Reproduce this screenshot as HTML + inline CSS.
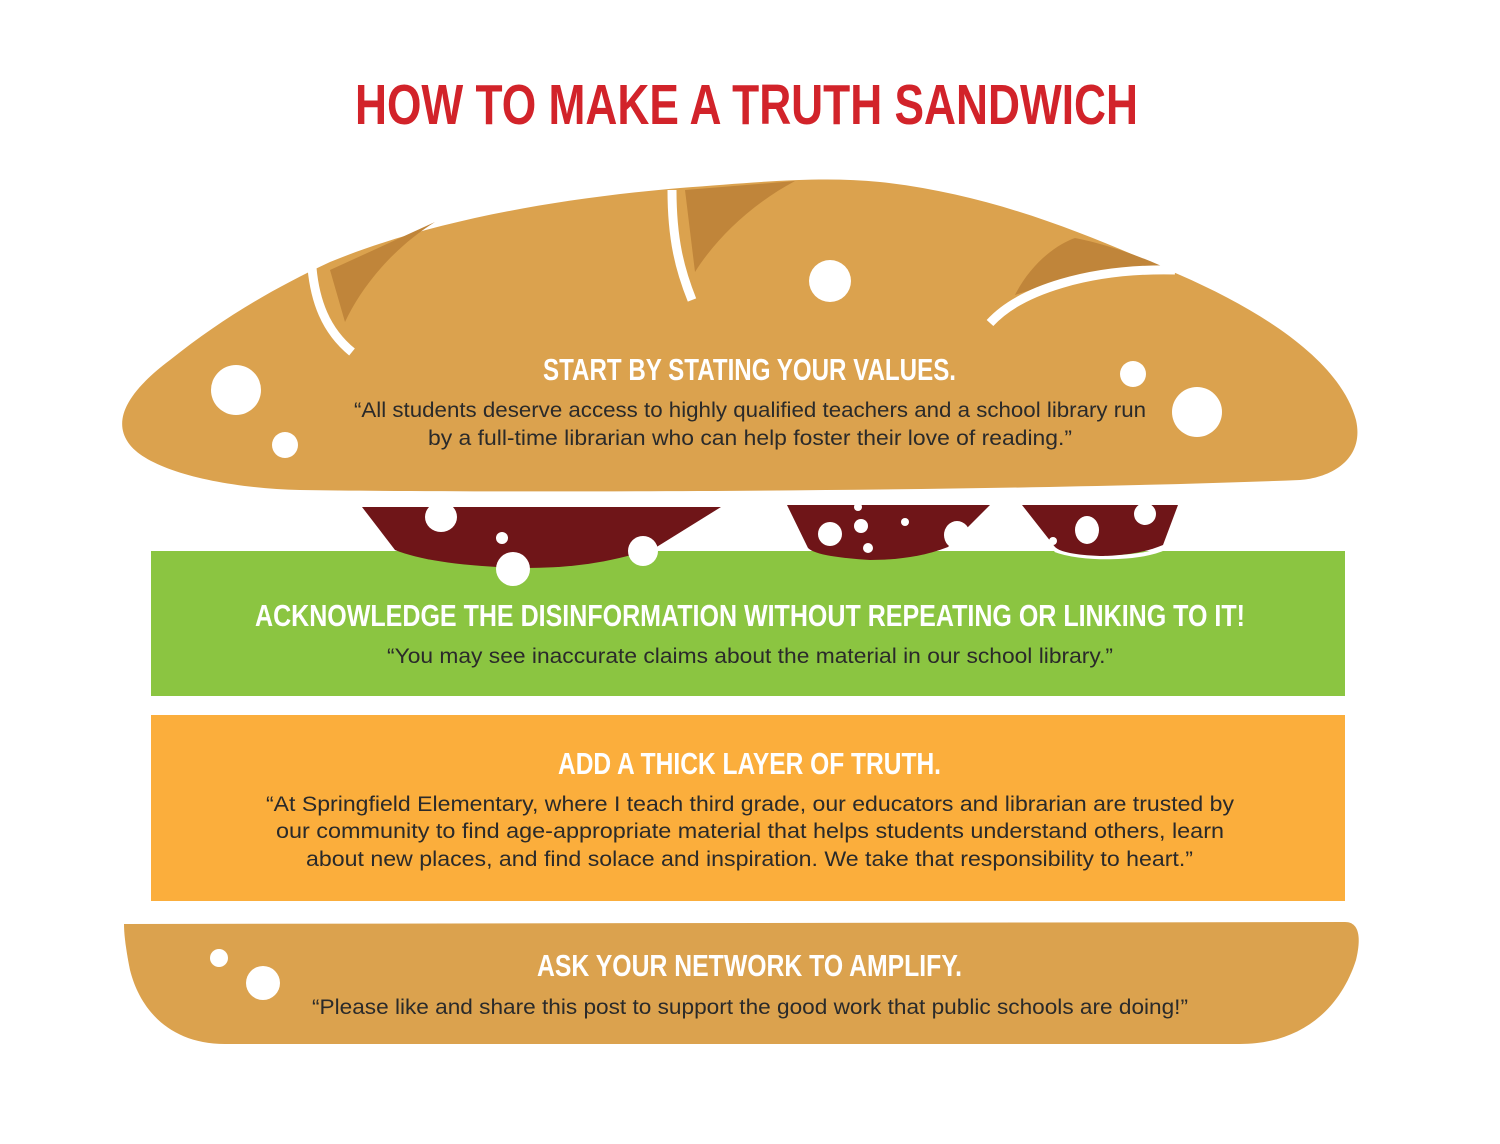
<!DOCTYPE html>
<html><head><meta charset="utf-8"><style>
html,body{margin:0;padding:0;background:#fff}
svg{display:block}
text{font-family:"Liberation Sans Narrow","Liberation Sans",sans-serif}
.h{font-weight:bold;fill:#fff;font-size:31px}
.b{font-family:"Liberation Sans",sans-serif;fill:#2a2a2a;font-size:21px}
</style></head><body>
<svg width="1500" height="1144" viewBox="0 0 1500 1144" xmlns="http://www.w3.org/2000/svg">
<rect width="1500" height="1144" fill="#fff"/>
<text x="355" y="124" font-size="57" font-weight="bold" fill="#D2232A" textLength="783" lengthAdjust="spacingAndGlyphs">HOW TO MAKE A TRUTH SANDWICH</text>

<!-- top bun -->
<path d="M130,445 C110,420 130,390 170,360 C220,320 270,290 330,262 C420,225 540,200 680,188 C760,182 820,176 880,182 C1000,195 1100,240 1180,275 C1260,310 1340,360 1356,420 C1365,460 1330,478 1300,480 C1000,492 500,493 300,490 C220,488 150,470 130,445 Z" fill="#DBA24E"/>
<!-- scores -->
<path d="M330,270 L435,222 C390,250 360,290 345,322 Z" fill="#C0853A"/>
<path d="M312,268 C315,300 325,330 352,352" stroke="#fff" stroke-width="9" fill="none"/>
<path d="M685,190 L795,181 C750,205 715,240 695,272 Z" fill="#C0853A"/>
<path d="M672,190 C672,240 680,270 692,300" stroke="#fff" stroke-width="9" fill="none"/>
<path d="M1015,295 C1030,265 1055,245 1075,238 C1110,245 1145,258 1170,270 C1110,270 1060,280 1015,295 Z" fill="#C0853A"/>
<path d="M1175,270 C1090,268 1020,290 990,323" stroke="#fff" stroke-width="9" fill="none"/>
<circle cx="830" cy="281" r="21" fill="#fff"/>
<circle cx="236" cy="390" r="25" fill="#fff"/>
<circle cx="285" cy="445" r="13" fill="#fff"/>
<circle cx="1133" cy="374" r="13" fill="#fff"/>
<circle cx="1197" cy="412" r="25" fill="#fff"/>
<text class="h" x="543" y="380" textLength="413" lengthAdjust="spacingAndGlyphs">START BY STATING YOUR VALUES.</text>
<text class="b" x="354" y="417" textLength="792" lengthAdjust="spacingAndGlyphs">“All students deserve access to highly qualified teachers and a school library run</text>
<text class="b" x="428" y="445" textLength="644" lengthAdjust="spacingAndGlyphs">by a full-time librarian who can help foster their love of reading.”</text>

<!-- green -->
<rect x="151" y="551" width="1194" height="145" fill="#8BC541"/>
<!-- salami -->
<path d="M362,507 L721,507 L655,548 C600,566 560,568 520,568 C460,566 420,560 395,550 Z" fill="#6F1518"/>
<path d="M787,505 L990,505 L948,547 C920,558 890,560 870,560 C840,558 815,555 808,548 Z" fill="#6F1518"/>
<path d="M1055,550 C1080,560 1140,560 1165,548" stroke="#fff" stroke-width="4" fill="none"/>
<path d="M1022,505 L1178,505 L1163,545 C1140,555 1110,556 1100,556 C1075,555 1060,552 1055,547 Z" fill="#6F1518"/>
<ellipse cx="441" cy="517" rx="16" ry="15" fill="#fff"/>
<ellipse cx="502" cy="538" rx="6" ry="6" fill="#fff"/>
<ellipse cx="513" cy="569" rx="17" ry="17" fill="#fff"/>
<ellipse cx="643" cy="551" rx="15" ry="15" fill="#fff"/>
<ellipse cx="858" cy="507" rx="4" ry="4" fill="#fff"/>
<ellipse cx="830" cy="534" rx="12" ry="12" fill="#fff"/>
<ellipse cx="861" cy="526" rx="7" ry="7" fill="#fff"/>
<ellipse cx="868" cy="548" rx="5" ry="5" fill="#fff"/>
<ellipse cx="905" cy="522" rx="4" ry="4" fill="#fff"/>
<ellipse cx="957" cy="535" rx="13" ry="14" fill="#fff"/>
<ellipse cx="1145" cy="514" rx="11" ry="11" fill="#fff"/>
<ellipse cx="1087" cy="530" rx="12" ry="14" fill="#fff"/>
<ellipse cx="1053" cy="541" rx="4" ry="4" fill="#fff"/>
<text class="h" x="255" y="626" textLength="990" lengthAdjust="spacingAndGlyphs">ACKNOWLEDGE THE DISINFORMATION WITHOUT REPEATING OR LINKING TO IT!</text>
<text class="b" x="387" y="663" textLength="726" lengthAdjust="spacingAndGlyphs">“You may see inaccurate claims about the material in our school library.”</text>

<!-- orange -->
<rect x="151" y="715" width="1194" height="186" fill="#FBAE3C"/>
<text class="h" x="558" y="774" textLength="383" lengthAdjust="spacingAndGlyphs">ADD A THICK LAYER OF TRUTH.</text>
<text class="b" x="266" y="811" textLength="968" lengthAdjust="spacingAndGlyphs">“At Springfield Elementary, where I teach third grade, our educators and librarian are trusted by</text>
<text class="b" x="276" y="838" textLength="948" lengthAdjust="spacingAndGlyphs">our community to find age-appropriate material that helps students understand others, learn</text>
<text class="b" x="306" y="866" textLength="887" lengthAdjust="spacingAndGlyphs">about new places, and find solace and inspiration. We take that responsibility to heart.”</text>

<!-- bottom bun -->
<path d="M124,924 L1345,922 C1358,922 1362,935 1356,960 C1340,1010 1300,1044 1240,1044 L225,1044 C170,1044 140,1010 130,970 C126,950 124,935 124,924 Z" fill="#DBA24E"/>
<circle cx="219" cy="958" r="9" fill="#fff"/>
<circle cx="263" cy="983" r="17" fill="#fff"/>
<text class="h" x="537" y="976" textLength="425" lengthAdjust="spacingAndGlyphs">ASK YOUR NETWORK TO AMPLIFY.</text>
<text class="b" x="312" y="1014" textLength="876" lengthAdjust="spacingAndGlyphs">“Please like and share this post to support the good work that public schools are doing!”</text>
</svg>
</body></html>
